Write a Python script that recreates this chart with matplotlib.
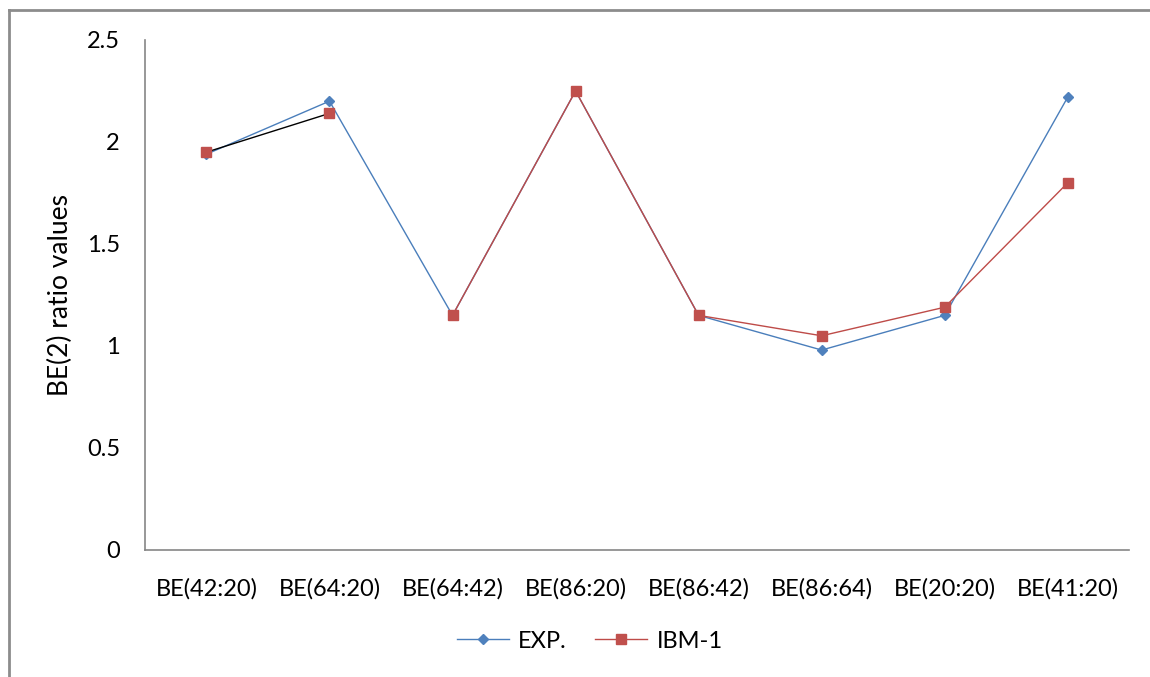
import numpy as np
import matplotlib.pyplot as plt
from matplotlib.lines import Line2D

# データ
categories = ["BE(42:20)", "BE(64:20)", "BE(64:42)", "BE(86:20)",
              "BE(86:42)", "BE(86:64)", "BE(20:20)", "BE(41:20)"]
exp_vals = [1.94, 2.20, 1.15, 2.25, 1.15, 0.98, 1.15, 2.22]
ibm_vals = [1.95, 2.14, 1.15, 2.25, 1.15, 1.05, 1.19, 1.80]

blue = "#4A7EBB"
blue_mk = "#4F81BD"
red = "#BE4B48"
red_mk = "#C0504D"
# IBM-1 の線分ごとの色 (元の図では最初の区間が黒, 二番目は見えない)
ibm_seg_colors = ["black", None, red, red, red, red, red]

plt.rcParams["font.family"] = ["Lato", "DejaVu Sans"]
plt.rcParams["font.size"] = 17

fig = plt.figure(figsize=(11.5, 6.77), dpi=100)
ax = fig.add_axes([0.126, 0.1876, 0.856, 0.7534])

x = np.arange(len(categories))

# EXP.
ax.plot(x, exp_vals, color=blue, lw=1.0, marker="D", markersize=5.5,
        markerfacecolor=blue_mk, markeredgecolor=blue_mk, zorder=3)

# IBM-1
for i in range(len(x) - 1):
    c = ibm_seg_colors[i]
    if c is None:
        continue
    ax.plot(x[i:i + 2], ibm_vals[i:i + 2], color=c, lw=1.0, zorder=4)
ax.plot(x, ibm_vals, ls="none", marker="s", markersize=7,
        markerfacecolor=red_mk, markeredgecolor=red_mk, zorder=5)

ax.set_xlim(-0.5, len(x) - 0.5)
ax.set_ylim(0, 2.5)
ax.set_yticks(np.arange(0, 2.51, 0.5))
ax.set_yticklabels(["0", "0.5", "1", "1.5", "2", "2.5"])
ax.set_xticks(x)
ax.set_xticklabels(categories)
ax.tick_params(axis="both", length=0)
ax.tick_params(axis="y", pad=18)
ax.tick_params(axis="x", pad=20)
ax.set_ylabel("BE(2) ratio values", fontsize=19, labelpad=10)

for s in ["top", "right"]:
    ax.spines[s].set_visible(False)
for s in ["left", "bottom"]:
    ax.spines[s].set_color("#868686")
    ax.spines[s].set_linewidth(1.2)

# 凡例
handles = [
    Line2D([], [], color=blue, lw=1.0, marker="D", markersize=5.5,
           markerfacecolor=blue_mk, markeredgecolor=blue_mk),
    Line2D([], [], color=red, lw=1.0, marker="s", markersize=7,
           markerfacecolor=red_mk, markeredgecolor=red_mk),
]
fig.legend(handles, ["EXP.", "IBM-1"], loc="center", bbox_to_anchor=(0.513, 0.053),
           ncol=2, frameon=False, fontsize=17, handlelength=2.2,
           columnspacing=1.2, handletextpad=0.4)

# 外枠
fig.add_artist(Line2D([9 / 1150, 9 / 1150], [0, 1 - 10 / 677],
                      color="#8C8C8C", lw=2, transform=fig.transFigure))
fig.add_artist(Line2D([9 / 1150, 1], [1 - 10 / 677, 1 - 10 / 677],
                      color="#8C8C8C", lw=2, transform=fig.transFigure))

plt.savefig("out.png", dpi=100)
plt.close()
